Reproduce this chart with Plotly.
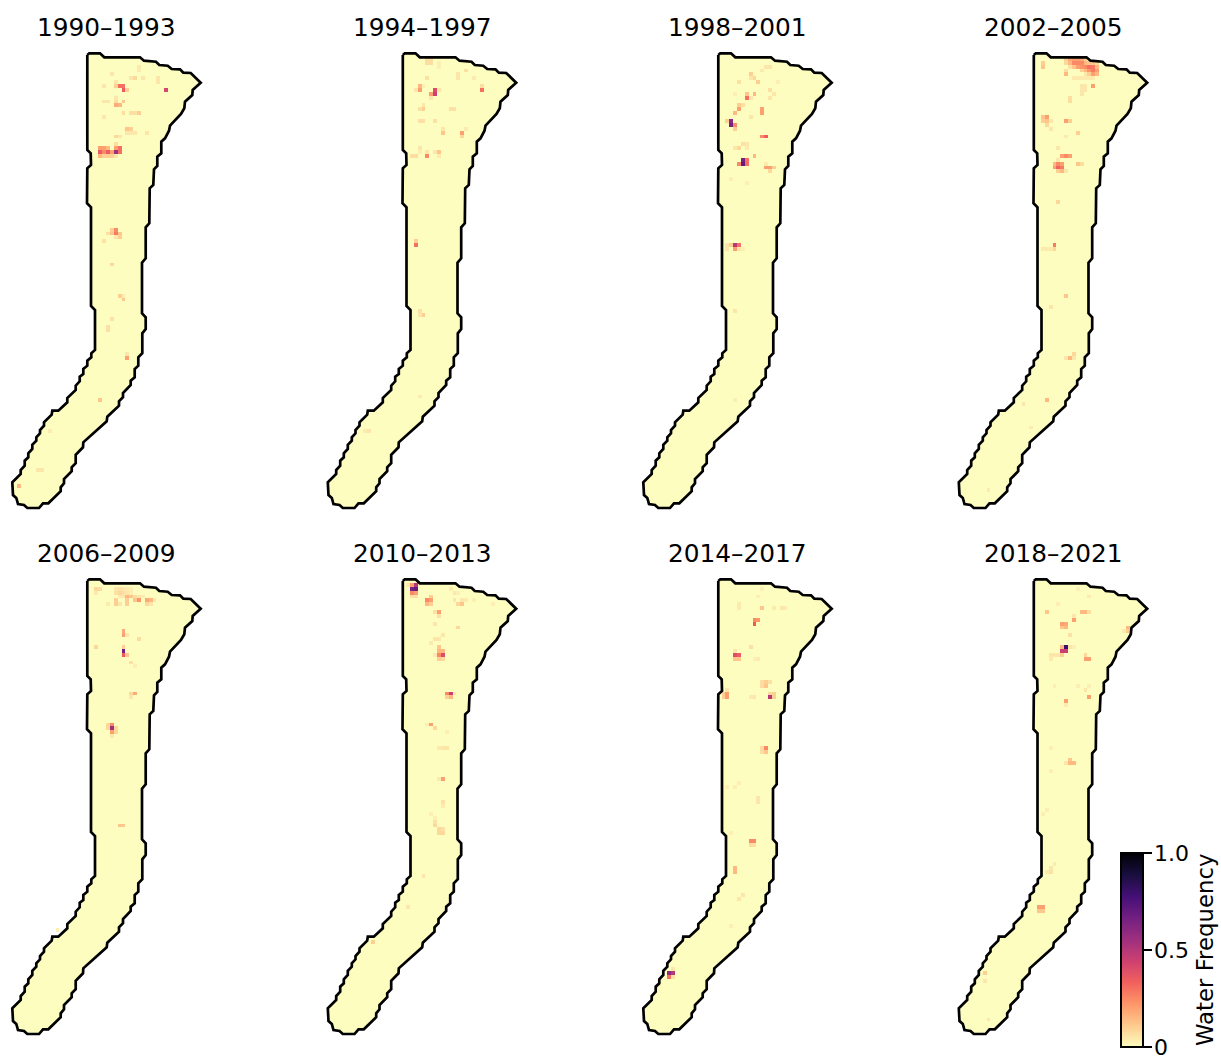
import numpy as np
import plotly.graph_objects as go

PERIODS = ["1990–1993", "1994–1997", "1998–2001", "2002–2005",
           "2006–2009", "2010–2013", "2014–2017", "2018–2021"]

OUTLINE_X = [75.3,77.3,88,92.3,128,132,144,147.3,155.7,159.7,168,171.3,178.7,188.7,180.7,180.3,173,172.3,169,158,157,153,149.3,149.3,145.3,145.3,142,141.3,137.7,137.3,133.7,133.7,130,
             130,133.7,133.7,130.3,130.3,126.3,126.3,122.7,122.7,118.7,118.7,111,111,107,107,95.3,94.7,71.3,71,63.7,63.7,59.7,59.7,52,52,48.7,48.7,36.3,31,27,15.3,12,6,4.3,1,0.3,
             8.7,8.7,12.7,12.7,16.3,16.3,20.3,20.3,24.3,24.3,28,28,32,32,39.7,40.3,46.3,55.3,55.3,63.7,63.7,67.7,67.7,71.3,71.3,75.3,75.3,79.3,79.3,83,83,79,79,75,75.3,79,78.7,75.3,75.3]
OUTLINE_Y = [2,0.3,0.3,4.3,4.3,7.7,8.7,12,12.7,16,16.3,19.7,20,29.7,37,42,48.7,55.3,61,72.7,77.7,85.3,88.7,100.3,103.7,113,116.3,132,135.3,170.3,174.3,205.3,209.7,
             260.3,264.3,276,280.3,300.3,304.3,312.7,316,324.3,327.7,332,340,344.3,348.3,352.7,363.7,368.3,389.3,394.3,401.7,410.3,414.3,418.3,426,430.3,434.3,438.3,450.3,450.3,455,455,452,451,445,442,429.3,
             421,417,412.7,407.7,404.3,400.3,396,391.7,387.7,384.3,380.3,377,372.7,369.3,361.7,357.7,357.7,349.3,345,337,332.7,328.3,323.7,321,316,312.7,307.7,304.3,300.3,297,257,253,154.3,150.3,115.3,112,100.3,97,2]

# Water frequency of the wet grid cells: (column, row, value)
CELLS_1990 = [(28,9,.35),(27,8,.3),(28,8,.3),(29,9,.1),(26,8,.1),(39,9,.42),(25,5,.05),(31,6,.08),(30,6,.05),(33,6,.05),(32,3,.04),(32,4,.04),(37,6,.05),(37,7,.05),(26,7,.05),(23,8,.05),
 (23,12,.05),(24,12,.05),(26,12,.07),(28,12,.12),(26,13,.18),(27,13,.15),(26,11,.05),(28,15,.07),(30,15,.06),(31,15,.06),(32,15,.1),(23,16,.05),
 (29,19,.12),(30,19,.1),(29,20,.05),(30,20,.05),(31,20,.05),(34,20,.05),(26,21,.08),(27,21,.05),(26,23,.07),
 (22,24,.2),(23,24,.2),(24,24,.15),(26,24,.2),(27,24,.3),(22,25,.35),(23,25,.25),(24,25,.35),(25,25,.2),(26,25,.55),(27,25,.3),(22,26,.15),(23,26,.1),(24,26,.1),(25,26,.1),(26,26,.05),
 (26,45,.25),(25,45,.1),(26,46,.28),(25,46,.12),(24,46,.06),(27,46,.12),(27,47,.1),(26,47,.05),(23,48,.06),(25,54,.08),
 (27,62,.1),(28,62,.04),(28,63,.12),(25,68,.06),(24,70,.06),(24,71,.06),(29,77,.05),(29,78,.2),(22,89,.12),(9,97,.04),(6,107,.05),(7,107,.05),(1,111,.15)]
CELLS_1994 = [(25,1,.07),(26,1,.07),(25,2,.07),(26,2,.07),(28,2,.03),(28,3,.03),(35,4,.06),(33,5,.05),(33,6,.05),(37,6,.04),(25,6,.06),
 (23,8,.15),(23,9,.2),(22,9,.05),(24,8,.03),(27,9,.4),(27,10,.45),(26,10,.2),(28,9,.05),(26,11,.05),(39,8,.07),(39,9,.3),
 (24,13,.05),(23,14,.06),(24,14,.1),(31,14,.06),(32,14,.06),(23,17,.06),(24,17,.06),(27,17,.06),(29,19,.05),(29,20,.12),(34,20,.2),(34,21,.08),(35,19,.04),
 (23,24,.05),(22,26,.07),(21,26,.07),(23,25,.03),(25,25,.05),(25,26,.25),(27,25,.05),(28,25,.12),(28,26,.04),(22,48,.1),(22,49,.3),(23,66,.06),(24,67,.1),(23,67,.05),(23,88,.04),(10,97,.05),(9,97,.04)]
CELLS_1998 = [(31,3,.05),(32,3,.05),(30,4,.04),(27,5,.1),(28,6,.08),(29,7,.1),(27,6,.05),(24,7,.06),(34,7,.03),(32,9,.06),(33,10,.05),(32,11,.05),(23,10,.03),
 (26,10,.12),(26,11,.3),(28,10,.15),(27,11,.05),(24,13,.1),(25,13,.07),(24,14,.2),(23,15,.15),(30,14,.2),(30,15,.2),(27,16,.05),
 (21,17,.1),(22,17,.6),(22,18,.65),(23,18,.25),(23,19,.1),(30,21,.25),(31,21,.35),(24,24,.08),(25,23,.06),(26,23,.05),(26,24,.04),(23,24,.05),
 (25,27,.65),(25,28,.7),(24,28,.25),(26,27,.3),(26,28,.3),(28,26,.15),(31,28,.04),(31,29,.2),(32,29,.2),(33,29,.1),(32,30,.08),(22,32,.03),(26,33,.03),
 (21,49,.05),(21,50,.05),(23,49,.5),(24,49,.3),(22,49,.1),(23,50,.2),(24,50,.05),(25,50,.03),(23,66,.05),(23,89,.03)]
CELLS_2002 = [(27,1,.1),(28,1,.18),(29,1,.2),(30,1,.2),(31,1,.18),(32,1,.1),
 (27,2,.08),(28,2,.15),(29,2,.25),(30,2,.25),(31,2,.25),(32,2,.15),(33,2,.12),(34,2,.12),(35,2,.08),
 (28,3,.06),(29,3,.12),(30,3,.2),(31,3,.22),(32,3,.25),(33,3,.3),(34,3,.28),(35,3,.15),
 (27,4,.07),(31,4,.1),(32,4,.15),(33,4,.22),(34,4,.28),(35,4,.2),(32,5,.05),(33,5,.1),(34,5,.2),(35,5,.15),(27,5,.15),
 (29,6,.04),(30,6,.04),(31,6,.04),(32,6,.04),(33,6,.04),(34,6,.04),(34,8,.2),(31,8,.05),(32,8,.05),(31,9,.05),(32,9,.05),(31,10,.05),(28,11,.07),(28,12,.07),
 (21,2,.1),(21,3,.12),(22,16,.2),(21,16,.12),(21,17,.1),(22,17,.12),(23,17,.05),(22,18,.08),(23,19,.05),(27,17,.2),(28,17,.1),(30,20,.1),(27,21,.04),
 (25,24,.05),(27,26,.25),(26,26,.2),(28,26,.2),(25,27,.05),(30,28,.12),(31,28,.07),
 (25,28,.25),(24,28,.15),(26,28,.2),(24,29,.2),(25,29,.33),(26,29,.28),(25,30,.1),(26,30,.15),(27,30,.05),
 (25,38,.08),(24,49,.28),(24,50,.08),(21,50,.04),(22,50,.04),(23,50,.04),(27,62,.12),(23,65,.05),(28,78,.15),(29,77,.08),(27,78,.05),(29,78,.05),(22,89,.15),(16,90,.05),(18,96,.04),(7,112,.04)]
CELLS_2006 = [(21,2,.08),(22,2,.07),(21,3,.04),(26,2,.05),(27,2,.06),(28,2,.05),(29,2,.04),(30,2,.03),(26,3,.06),(27,3,.08),(28,3,.06),(29,3,.05),(30,3,.03),
 (27,4,.04),(28,4,.05),(29,4,.15),(30,4,.12),(31,4,.07),(32,4,.05),(33,4,.04),(26,5,.1),(29,5,.1),(31,5,.12),(32,5,.22),(34,5,.18),(35,5,.15),(36,5,.05),
 (26,6,.1),(27,6,.05),(29,6,.1),(34,6,.08),(35,6,.05),(24,6,.04),(28,13,.18),(28,14,.2),(29,14,.05),(32,15,.07),(21,17,.08),(28,17,.1),(28,18,.65),(28,19,.35),(29,19,.12),(30,21,.06),(31,22,.03),
 (30,29,.08),(31,29,.18),(30,30,.05),(24,37,.08),(25,37,.25),(25,38,.55),(24,38,.08),(26,38,.08),(25,39,.2),(26,39,.08),(25,40,.04),(27,63,.12),(28,63,.12),(11,90,.03)]
CELLS_2010 = [(20,1,.04),(21,1,.2),(22,1,.5),(21,2,.65),(22,2,.7),(21,3,.25),(22,3,.2),(21,4,.06),(22,4,.06),(26,4,.1),(25,5,.25),(26,5,.2),(25,6,.15),(26,6,.1),
 (31,2,.04),(32,3,.05),(33,3,.03),(32,5,.05),(34,5,.05),(35,5,.04),(37,5,.03),(33,6,.08),(34,6,.12),(42,6,.03),(28,8,.2),(27,8,.06),(28,9,.06),(27,11,.05),(33,12,.08),
 (29,14,.05),(28,15,.05),(27,15,.05),(26,16,.04),(28,17,.12),(29,18,.15),(28,18,.15),(29,19,.4),(28,19,.25),(27,19,.04),(28,20,.1),(29,20,.08),
 (30,29,.25),(31,29,.45),(32,29,.04),(30,30,.1),(31,30,.15),(26,37,.2),(25,37,.03),(27,38,.08),(30,39,.03),(28,43,.04),(29,43,.05),(30,43,.05),(29,51,.2),(28,51,.04),(29,57,.06),(29,58,.04),
 (26,60,.03),(27,61,.03),(27,62,.06),(27,63,.08),(28,64,.08),(28,65,.08),(29,65,.08),(29,64,.06),(24,76,.05),(20,84,.05),(11,93,.1)]
CELLS_2014 = [(30,7,.12),(24,6,.04),(24,7,.04),(33,7,.04),(35,7,.05),(36,7,.04),(29,4,.03),(30,2,.03),(28,10,.25),(29,10,.22),(28,11,.35),(27,17,.06),
 (23,18,.05),(23,19,.4),(24,19,.35),(23,20,.12),(24,20,.12),(29,20,.04),(28,20,.03),(31,26,.1),(30,26,.07),(31,27,.12),(30,27,.07),(32,26,.06),
 (21,28,.05),(21,29,.2),(20,29,.1),(21,30,.2),(20,30,.1),(32,29,.08),(33,29,.1),(32,30,.5),(33,30,.1),(28,30,.05),(27,30,.04),
 (30,43,.07),(31,43,.25),(30,44,.07),(31,44,.12),(24,52,.03),(23,53,.03),(21,53,.03),(29,56,.05),(29,57,.05),(22,65,.03),(27,67,.25),(28,67,.25),(27,68,.07),(28,68,.06),(23,74,.15),(23,75,.15),
 (25,81,.05),(24,82,.05),(22,89,.03),(6,101,.6),(7,101,.5),(6,102,.3),(7,100,.05),(7,102,.06)]
CELLS_2018 = [(22,8,.12),(31,8,.15),(32,8,.15),(33,8,.07),(29,10,.2),(29,9,.05),(26,11,.2),(27,11,.18),(26,12,.12),(27,12,.15),(28,14,.06),(33,4,.04),(30,2,.03),(25,6,.03),
 (43,12,.15),(43,13,.1),(42,13,.04),(27,17,.8),(26,18,.45),(27,18,.45),(26,17,.15),(28,17,.05),(29,17,.03),(23,19,.05),(24,19,.05),(25,19,.05),(26,19,.1),(23,20,.04),
 (32,19,.08),(32,20,.2),(33,20,.2),(33,30,.2),(32,28,.05),(30,27,.03),(33,27,.03),(27,31,.2),(27,32,.04),(24,27,.03),
 (28,46,.12),(27,47,.05),(28,47,.15),(29,47,.15),(23,43,.03),(23,49,.03),(22,59,.03),(21,60,.03),(24,73,.04),(23,74,.05),(23,75,.06),(22,75,.04),
 (20,84,.2),(21,84,.2),(20,85,.12),(21,85,.12),(6,101,.1),(6,103,.05),(7,113,.05)]
ALL_CELLS = [CELLS_1990, CELLS_1994, CELLS_1998, CELLS_2002, CELLS_2006, CELLS_2010, CELLS_2014, CELLS_2018]

CB_TICKS = [0, 0.5, 1]
CB_LABELS = ["0", "0.5", "1.0"]

N_ROWS, N_COLS = 118, 50
CELL = 3.88
BG = "#fcfdbf"
W, H = 1221, 1058
PANEL_X = [12, 327.5, 643, 958.5]
PANEL_Y = [53, 579]
PAD = 4
XR = (-PAD, 194)
YR = (458, -PAD)
CB_TOP, CB_BOTTOM = 853, 1047

outline_path = "M " + " L ".join(f"{x},{y}" for x, y in zip(OUTLINE_X, OUTLINE_Y)) + " Z"

fig = go.Figure()
layout = {}
annotations = []
shapes = []
for i, (name, cells) in enumerate(zip(PERIODS, ALL_CELLS)):
    r, c = divmod(i, 4)
    px, py = PANEL_X[c], PANEL_Y[r]
    s = "" if i == 0 else str(i + 1)
    layout[f"xaxis{s}"] = dict(domain=[(px + XR[0]) / W, (px + XR[1]) / W], range=list(XR), visible=False, fixedrange=True)
    layout[f"yaxis{s}"] = dict(domain=[1 - (py + YR[0]) / H, 1 - (py + YR[1]) / H], range=list(YR), visible=False, fixedrange=True)
    xa, ya = f"x{s}", f"y{s}"
    z = np.full((N_ROWS, N_COLS), np.nan)
    for col, row, v in cells:
        z[row, col] = v
    shapes.append(dict(type="path", path=outline_path, xref=xa, yref=ya, layer="below",
                       fillcolor=BG, line=dict(width=0)))
    fig.add_trace(go.Heatmap(z=z, x0=0.74 * CELL, dx=CELL, y0=0.5 * CELL, dy=CELL, xaxis=xa, yaxis=ya,
                             coloraxis="coloraxis", hoverongaps=False, showlegend=False))
    fig.add_trace(go.Scatter(x=OUTLINE_X, y=OUTLINE_Y, xaxis=xa, yaxis=ya, mode="lines",
                             line=dict(color="black", width=2.7, shape="linear"), hoverinfo="skip",
                             showlegend=False, cliponaxis=False))
    annotations.append(dict(text=name, xref="paper", yref="paper", x=(px + 94.5) / W, y=1 - (py - 26) / H,
                            xanchor="center", yanchor="middle", showarrow=False,
                            font=dict(size=24.8, color="black")))

for v, lab in zip(CB_TICKS, CB_LABELS):
    y_px = CB_BOTTOM - v * (CB_BOTTOM - CB_TOP)
    annotations.append(dict(text=lab, xref="paper", yref="paper", x=1152 / W, y=1 - y_px / H,
                            xanchor="left", yanchor="middle", showarrow=False,
                            font=dict(size=22, color="black")))
annotations.append(dict(text="Water Frequency", xref="paper", yref="paper", x=1205 / W, y=1 - 950 / H,
                        xanchor="center", yanchor="middle", showarrow=False, textangle=-90,
                        font=dict(size=22.8, color="black")))

fig.update_layout(
    **layout,
    annotations=annotations,
    shapes=shapes,
    width=W, height=H, autosize=False,
    margin=dict(l=0, r=0, t=0, b=0),
    paper_bgcolor="white", plot_bgcolor="white",
    font=dict(family="DejaVu Sans", color="black"),
    showlegend=False,
    coloraxis=dict(
        cmin=0, cmax=1, colorscale="Magma_r",
        colorbar=dict(
            x=1121 / W, xanchor="left", xpad=0, ypad=0,
            y=1 - (CB_TOP + CB_BOTTOM) / 2 / H, yanchor="middle",
            lenmode="pixels", len=CB_BOTTOM - CB_TOP, thicknessmode="pixels", thickness=22,
            outlinecolor="black", outlinewidth=2,
            ticks="outside", ticklen=8, tickwidth=2, tickcolor="black",
            tickvals=CB_TICKS, showticklabels=False,
        ),
    ),
)
fig.write_html("out.html", config={"displayModeBar": False}, post_script="document.body.style.margin='0';")
